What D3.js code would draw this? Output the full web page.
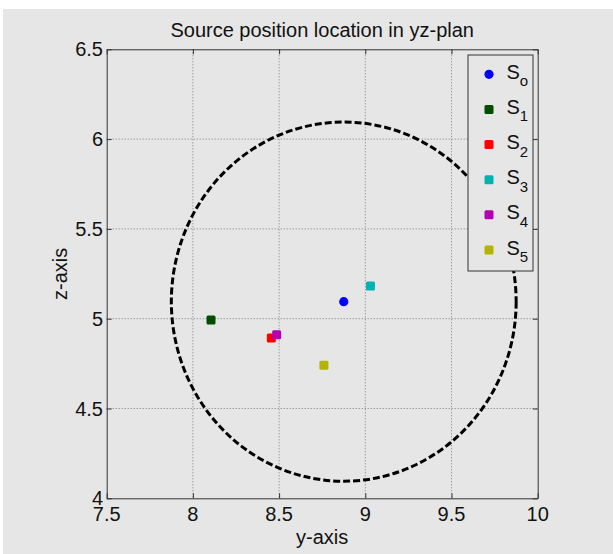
<!DOCTYPE html>
<html>
<head>
<meta charset="utf-8">
<script src="https://cdn.jsdelivr.net/npm/d3@7/dist/d3.min.js"></script>
<style>
  html, body { margin: 0; padding: 0; background: #ffffff; }
  svg { display: block; font-family: "Liberation Sans", Arial, sans-serif; }
</style>
</head>
<body>
<svg id="chart" width="613" height="554"></svg>
<script>
// ---- data ----
const sourceNames = ["o", "1", "2", "3", "4", "5"];
const yValues = [8.875, 8.105, 8.455, 9.03, 8.486, 8.76];
const zValues = [5.095, 4.993, 4.893, 5.182, 4.911, 4.741];
const markerShapes = ["circle", "square", "square", "square", "square", "square"];
const colors = ["#0000ff", "#004d00", "#ff0000", "#00b3b3", "#b300b3", "#b3b300"];
const xTicks = [7.5, 8, 8.5, 9, 9.5, 10];
const yTicks = [4, 4.5, 5, 5.5, 6, 6.5];
const xDomain = [7.5, 10];
const yDomain = [4, 6.5];
const circleCenter = [8.875, 5.095];
const circleRadius = 1.0;
const titleText = "Source position location in yz-plan";
const xLabelText = "y-axis";
const yLabelText = "z-axis";

// ---- layout ----
const W = 613, H = 554;
const plot = { left: 106.7, top: 49.3, right: 537.7, bottom: 498.3 };
const svg = d3.select("#chart");
const bg = "#e6e6e6";
const axisColor = "#333333";

svg.append("rect").attr("x", 0).attr("y", 0).attr("width", W).attr("height", H).attr("fill", "#ffffff");
svg.append("rect").attr("x", 3).attr("y", 9).attr("width", W - 3).attr("height", H - 9).attr("fill", bg);

const x = d3.scaleLinear().domain(xDomain).range([plot.left, plot.right]);
const y = d3.scaleLinear().domain(yDomain).range([plot.bottom, plot.top]);

// gridlines (dotted)
const grid = svg.append("g");
xTicks.filter(t => t > xDomain[0] && t < xDomain[1]).forEach(t => {
  grid.append("line").attr("x1", x(t)).attr("x2", x(t)).attr("y1", plot.top).attr("y2", plot.bottom)
    .attr("stroke", "#7a7a7a").attr("stroke-width", 1).attr("stroke-dasharray", "1,2");
});
yTicks.filter(t => t > yDomain[0] && t < yDomain[1]).forEach(t => {
  grid.append("line").attr("x1", plot.left).attr("x2", plot.right).attr("y1", y(t)).attr("y2", y(t))
    .attr("stroke", "#7a7a7a").attr("stroke-width", 1).attr("stroke-dasharray", "1,2");
});

// dashed circle around So
svg.append("ellipse")
  .attr("cx", x(circleCenter[0]))
  .attr("cy", y(circleCenter[1]))
  .attr("rx", x(circleCenter[0] + circleRadius) - x(circleCenter[0]))
  .attr("ry", y(circleCenter[1]) - y(circleCenter[1] + circleRadius))
  .attr("fill", "none")
  .attr("stroke", "#000")
  .attr("stroke-width", 3)
  .attr("stroke-dasharray", "7,3");

// markers
function drawMarker(g, shape, cx, cy, color) {
  if (shape === "circle") {
    g.append("circle").attr("cx", cx).attr("cy", cy).attr("r", 4.6).attr("fill", color);
  } else {
    g.append("rect").attr("x", cx - 4.5).attr("y", cy - 4.5).attr("width", 9).attr("height", 9)
      .attr("rx", 1.5).attr("fill", color);
  }
}
const pts = svg.append("g");
sourceNames.forEach((n, i) => drawMarker(pts, markerShapes[i], x(yValues[i]), y(zValues[i]), colors[i]));

// axes box and ticks
const axG = svg.append("g");
const bottomAxis = d3.axisBottom(x).tickValues(xTicks).tickSizeInner(-5).tickSizeOuter(0).tickFormat("");
const topAxis = d3.axisTop(x).tickValues(xTicks).tickSizeInner(-5).tickSizeOuter(0).tickFormat("");
const leftAxis = d3.axisLeft(y).tickValues(yTicks).tickSizeInner(-5).tickSizeOuter(0).tickFormat("");
const rightAxis = d3.axisRight(y).tickValues(yTicks).tickSizeInner(-5).tickSizeOuter(0).tickFormat("");
axG.append("g").attr("transform", `translate(0,${plot.bottom})`).call(bottomAxis);
axG.append("g").attr("transform", `translate(0,${plot.top})`).call(topAxis);
axG.append("g").attr("transform", `translate(${plot.left},0)`).call(leftAxis);
axG.append("g").attr("transform", `translate(${plot.right},0)`).call(rightAxis);
axG.selectAll("path, line").attr("stroke", axisColor).attr("stroke-width", 1);

// tick labels
const fmt = d => String(d);
svg.append("g").selectAll("text").data(xTicks).join("text")
  .attr("x", d => x(d)).attr("y", 521)
  .attr("text-anchor", "middle").attr("font-size", 20).attr("fill", "#111")
  .text(fmt);
svg.append("g").selectAll("text").data(yTicks).join("text")
  .attr("x", 103).attr("y", d => y(d) + 7)
  .attr("text-anchor", "end").attr("font-size", 20).attr("fill", "#111")
  .text(fmt);

// title and axis labels
svg.append("text").attr("x", (plot.left + plot.right) / 2).attr("y", 37)
  .attr("text-anchor", "middle").attr("font-size", 20).attr("fill", "#111").text(titleText);
svg.append("text").attr("x", (plot.left + plot.right) / 2).attr("y", 544)
  .attr("text-anchor", "middle").attr("font-size", 20).attr("fill", "#111").text(xLabelText);
svg.append("text").attr("transform", `translate(67,${(plot.top + plot.bottom) / 2}) rotate(-90)`)
  .attr("text-anchor", "middle").attr("font-size", 20).attr("fill", "#111").text(yLabelText);

// legend
const leg = { x: 468, y: 55, w: 65, h: 216 };
const lg = svg.append("g");
lg.append("rect").attr("x", leg.x).attr("y", leg.y).attr("width", leg.w).attr("height", leg.h)
  .attr("fill", bg).attr("stroke", axisColor).attr("stroke-width", 1);
const legendRow = d3.scaleLinear().domain([0, sourceNames.length - 1]).range([leg.y + 19.3, leg.y + 195]);
sourceNames.forEach((n, i) => {
  const my = legendRow(i);
  drawMarker(lg, markerShapes[i], leg.x + 21, my, colors[i]);
  const t = lg.append("text").attr("x", leg.x + 38.5).attr("y", my + 4.5)
    .attr("font-size", 20).attr("fill", "#111");
  t.append("tspan").text("S");
  t.append("tspan").attr("font-size", 15).attr("dy", 7.5).text(n);
});
</script>
</body>
</html>
